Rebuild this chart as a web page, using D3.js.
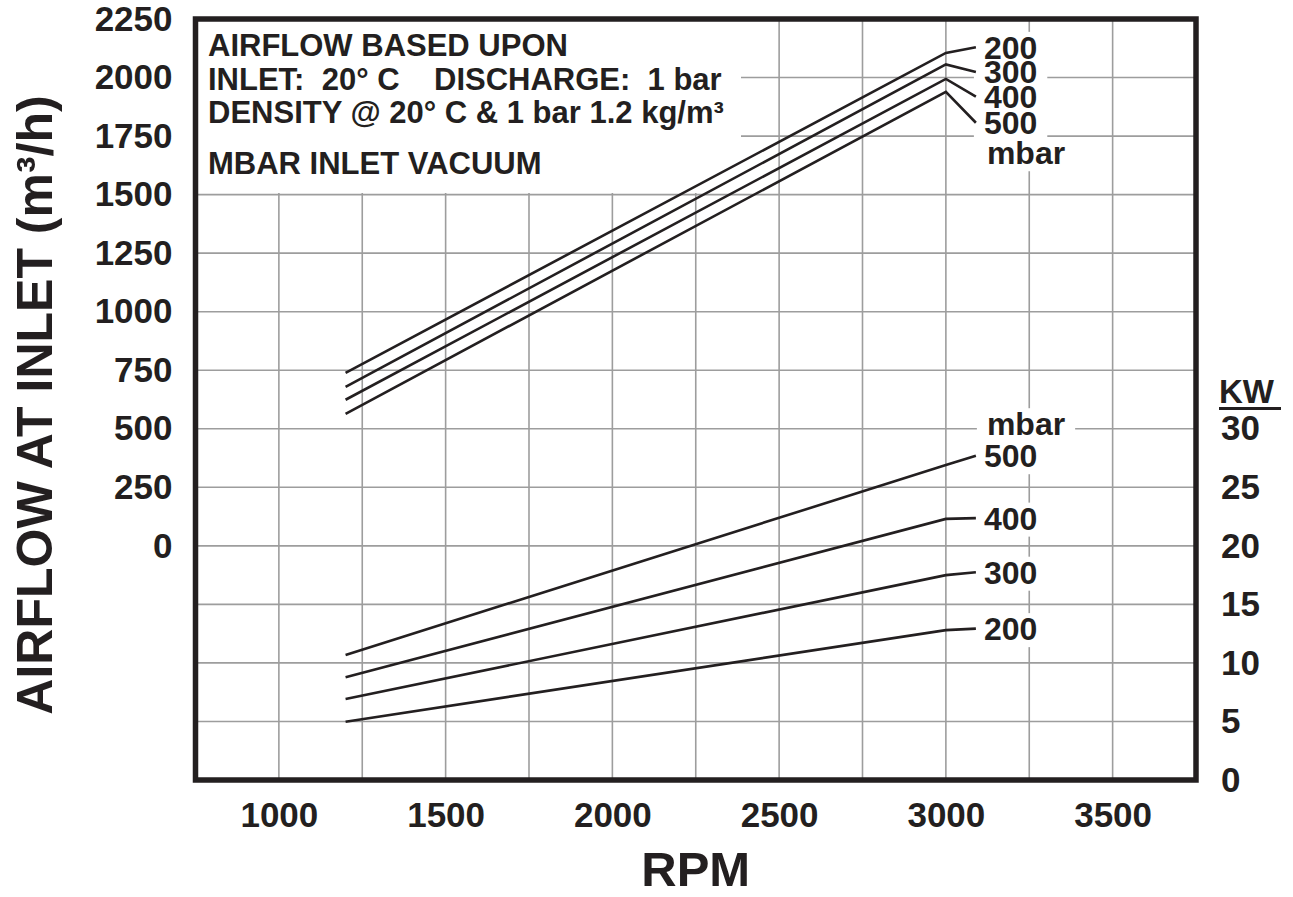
<!DOCTYPE html>
<html>
<head>
<meta charset="utf-8">
<script src="https://cdn.jsdelivr.net/npm/d3@7"></script>
<style>
  html, body { margin: 0; padding: 0; background: #fff; }
  svg { display: block; }
  text { font-family: "Liberation Sans", Arial, Helvetica, sans-serif; font-weight: bold; fill: #231f20; }
</style>
</head>
<body>
<svg id="chart" width="1293" height="897"></svg>
<script>
// ---- data ----
const vacuumLevels = [200, 300, 400, 500];          // mbar inlet vacuum
const rpmRange = [1200, 3000];                       // curves run from / to
const airflowAt1200 = [739, 679, 624, 564];          // m3/h
const airflowAt3000 = [2105, 2056, 1994, 1939];      // m3/h
const powerAt1200 = [4.98, 6.92, 8.78, 10.68];       // kW
const powerAt3000 = [12.8, 17.5, 22.3, 26.9];        // kW
const labelRpm = 3090;                               // leader line end
const airflowLabelAt = [2129, 2024, 1918, 1807];     // leader end (m3/h)
const powerLabelAt = [12.93, 17.75, 22.37, 27.7];    // leader end (kW)
const rpmTicks = [1000, 1500, 2000, 2500, 3000, 3500];
const rpmGrid = [1000, 1250, 1500, 1750, 2000, 2250, 2500, 2750, 3000, 3250, 3500];
const airflowTicks = [0, 250, 500, 750, 1000, 1250, 1500, 1750, 2000, 2250];
const airflowGrid = [-750, -500, -250, 0, 250, 500, 750, 1000, 1250, 1500, 1750, 2000];
const kwTicks = [0, 5, 10, 15, 20, 25, 30];
const noteLines = ["AIRFLOW BASED UPON", "INLET:  20\u00B0 C    DISCHARGE:  1 bar",
                   "DENSITY @ 20\u00B0 C & 1 bar 1.2 kg/m\u00B3", "MBAR INLET VACUUM"];

// ---- layout ----
const svg = d3.select("#chart");
const L = 195.5, R = 1196, T = 19, B = 780;
const x = d3.scaleLinear().domain([750, 3750]).range([L, R]);
const yA = d3.scaleLinear().domain([-1000, 2250]).range([B, T]);
const yK = d3.scaleLinear().domain([0, 65]).range([B, T]);
const ink = "#231f20";

// gridlines
const grid = svg.append("g").attr("stroke", "#9d9d9d").attr("stroke-width", 1.6);
grid.selectAll("line.v").data(rpmGrid).join("line").attr("class", "v")
  .attr("x1", d => x(d)).attr("x2", d => x(d)).attr("y1", T).attr("y2", B);
grid.selectAll("line.h").data(airflowGrid).join("line").attr("class", "h")
  .attr("x1", L).attr("x2", R).attr("y1", d => yA(d)).attr("y2", d => yA(d));

// note box (white background hiding grid)
svg.append("rect").attr("x", L).attr("y", T).attr("width", 741 - L).attr("height", 193 - T).attr("fill", "#fff");
const noteBase = [56, 90, 123, 174];
svg.append("g").selectAll("text").data(noteLines).join("text")
  .attr("x", 208).attr("y", (d, i) => noteBase[i])
  .attr("font-size", 31).style("white-space", "pre").text(d => d);

// curve labels (with white backgrounds)
const labelG = svg.append("g");
const bgG = labelG.append("g");
const txtG = labelG.append("g");
function label(txt, xx, yy) {
  const t = txtG.append("text").attr("x", xx).attr("y", yy).attr("font-size", 32)
    .attr("dy", "0.36em").text(txt);
  const bb = t.node().getBBox();
  bgG.append("rect").attr("x", bb.x - 10).attr("y", bb.y + 2).attr("width", bb.width + 20)
    .attr("height", bb.height - 2).attr("fill", "#fff");
  return t;
}
const lx = x(labelRpm) + 8;
vacuumLevels.forEach((v, i) => label(String(v), lx, yA(airflowLabelAt[i])));
label("mbar", lx + 3, yA(airflowLabelAt[3]) + 30);
vacuumLevels.forEach((v, i) => label(String(v), lx, yK(powerLabelAt[i])));
label("mbar", lx + 3, yK(powerLabelAt[3]) - 32);

// curves
const line = d3.line().x(d => x(d[0])).y(d => d[1]);
const curves = svg.append("g").attr("fill", "none").attr("stroke", ink).attr("stroke-width", 2.6);
vacuumLevels.forEach((v, i) => {
  curves.append("path").attr("d", line([
    [rpmRange[0], yA(airflowAt1200[i])], [rpmRange[1], yA(airflowAt3000[i])], [labelRpm, yA(airflowLabelAt[i])]
  ]));
  curves.append("path").attr("d", line([
    [rpmRange[0], yK(powerAt1200[i])], [rpmRange[1], yK(powerAt3000[i])], [labelRpm, yK(powerLabelAt[i])]
  ]));
});
labelG.lower();
grid.lower();

// frame
svg.append("rect").attr("x", L).attr("y", T).attr("width", R - L).attr("height", B - T)
  .attr("fill", "none").attr("stroke", ink).attr("stroke-width", 5.5);

// axes
const axL = svg.append("g").attr("transform", `translate(${L},0)`)
  .call(d3.axisLeft(yA).tickValues(airflowTicks).tickSize(0).tickPadding(23).tickFormat(d3.format("d")));
const axR = svg.append("g").attr("transform", `translate(${R},0)`)
  .call(d3.axisRight(yK).tickValues(kwTicks).tickSize(0).tickPadding(25).tickFormat(d3.format("d")));
const axB = svg.append("g").attr("transform", `translate(0,${B})`)
  .call(d3.axisBottom(x).tickValues(rpmTicks).tickSize(0).tickPadding(22).tickFormat(d3.format("d")));
[axL, axR, axB].forEach(a => {
  a.select(".domain").remove();
  a.selectAll("text").attr("font-size", 35).attr("fill", ink)
    .style("font-family", '"Liberation Sans", Arial, sans-serif').style("font-weight", "bold");
});

// KW unit
svg.append("text").attr("x", 1219).attr("y", 403).attr("font-size", 33).text("KW");
svg.append("line").attr("x1", 1219).attr("x2", 1281).attr("y1", 408.5).attr("y2", 408.5)
  .attr("stroke", ink).attr("stroke-width", 3);

// axis titles
svg.append("text").attr("x", (L + R) / 2).attr("y", 886).attr("text-anchor", "middle")
  .attr("font-size", 49).text("RPM");
svg.append("text").attr("transform", "translate(52,405) rotate(-90)").attr("text-anchor", "middle")
  .attr("font-size", 50).text("AIRFLOW AT INLET (m\u00B3/h)");
</script>
</body>
</html>
